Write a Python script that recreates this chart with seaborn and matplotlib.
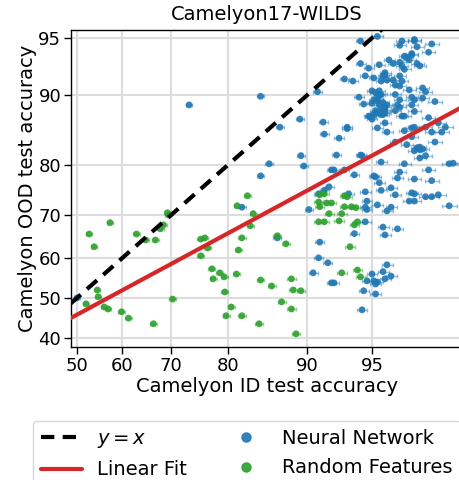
import math
import numpy as np
import pandas as pd
import seaborn as sns
import matplotlib
matplotlib.use("Agg")
import matplotlib.pyplot as plt
from matplotlib.lines import Line2D
from matplotlib.ticker import FixedLocator, NullLocator

# Neural network models: ID accuracy, OOD accuracy (%)
nn_id = [50.0, 73.4, 84.7, 91.0, 87.1, 89.3, 91.5, 91.6, 89.4, 85.8, 89.7, 84.7, 92.2, 92.0, 91.6,
         91.1, 82.1, 90.2, 86.8, 91.2, 91.1, 91.9, 90.6, 92.2, 92.8, 93.4, 92.6, 92.4, 93.2, 93.9,
         94.3, 94.4, 93.5, 94.6, 94.7, 94.7, 94.6, 93.9, 95.6, 95.7, 96.3, 95.3, 95.8, 96.0, 95.8,
         95.6, 95.0, 96.0, 95.7, 95.1, 95.2, 95.3, 94.7, 92.4, 94.5, 95.2, 94.4, 95.4, 96.0, 95.5,
         96.2, 95.1, 95.2, 95.5, 96.4, 96.3, 96.6, 97.0, 97.5, 97.6, 96.9, 97.0, 97.4, 97.6, 97.8,
         96.8, 97.0, 98.1, 98.1, 98.2, 97.2, 97.4, 96.2, 96.7, 96.9, 97.1, 97.2, 97.2, 97.0, 97.3,
         97.7, 95.3, 95.8, 96.6, 96.9, 97.0, 97.4, 97.6, 97.9, 98.0, 97.8, 97.5, 97.0, 96.5, 96.6,
         94.9, 95.1, 93.4, 95.7, 95.5, 95.7, 95.6, 95.7, 94.8, 95.0, 95.2, 95.5, 95.7, 95.8, 95.4,
         95.0, 95.1, 95.3, 95.5, 95.0, 95.2, 95.4, 94.5, 94.2, 96.2, 96.4, 96.3, 96.4, 96.2, 96.9,
         97.0, 97.3, 97.7, 96.9, 96.8, 97.3, 97.4, 96.4, 96.5, 96.4, 96.2, 96.1, 95.8, 95.5, 95.7,
         95.7, 95.6, 95.1, 94.6, 93.2, 93.8, 94.8, 94.3, 95.4, 95.9, 96.1, 96.4, 96.5, 96.6, 97.1,
         97.2, 96.7, 96.8, 96.9, 96.9, 96.6, 97.5, 97.1, 97.6, 97.0, 97.0, 96.5, 96.4, 95.3, 94.3,
         94.6, 95.3, 95.6, 95.4, 95.2, 95.6]
nn_ood = [50.0, 88.9, 89.9, 90.4, 86.0, 87.1, 86.7, 85.0, 81.6, 80.2, 79.8, 78.0, 79.1, 75.9, 75.2,
          74.5, 71.7, 71.2, 64.8, 63.8, 60.0, 58.8, 56.3, 53.8, 84.4, 85.8, 81.7, 79.1, 79.1, 78.2,
          81.7, 81.6, 74.5, 74.9, 73.0, 71.2, 68.5, 65.8, 67.3, 65.5, 66.9, 72.2, 70.9, 71.7, 58.3,
          56.6, 56.0, 55.5, 54.8, 54.3, 53.5, 54.0, 54.3, 53.8, 51.8, 51.0, 47.0, 76.7, 75.7, 75.2,
          74.3, 78.0, 77.8, 80.5, 78.7, 77.6, 80.2, 77.4, 79.1, 77.1, 74.7, 74.5, 73.9, 73.9, 74.3,
          73.0, 73.0, 72.0, 80.2, 80.3, 81.2, 81.6, 83.8, 83.4, 84.6, 82.9, 83.0, 82.6, 82.4, 82.7,
          83.8, 85.9, 85.3, 85.5, 85.9, 86.0, 86.0, 85.3, 85.3, 86.0, 86.6, 87.3, 88.1, 87.5, 87.5,
          87.4, 87.7, 86.0, 88.3, 87.7, 86.6, 87.7, 87.9, 87.5, 87.1, 88.2, 88.3, 88.6, 88.9, 88.9,
          89.1, 89.5, 89.7, 90.1, 90.5, 90.3, 90.5, 89.0, 89.8, 90.1, 89.5, 88.9, 88.6, 88.2, 88.9,
          89.5, 89.7, 89.3, 89.8, 90.6, 90.8, 90.4, 91.0, 91.5, 92.0, 91.1, 91.6, 91.6, 91.5, 92.3,
          92.1, 92.0, 91.8, 92.0, 91.7, 91.5, 92.7, 93.1, 93.0, 93.4, 93.1, 93.2, 92.9, 92.6, 93.1,
          92.9, 93.6, 93.4, 93.9, 93.8, 93.7, 94.0, 94.4, 94.6, 94.9, 94.8, 94.8, 94.5, 95.1, 94.8,
          71.7, 89.4, 88.0, 90.0, 87.9, 89.2]

# Random features models
rf_id = [52.7, 53.8, 57.3, 63.0, 64.9, 66.9, 67.9, 68.5, 69.3, 69.5, 52.0, 54.5, 54.7, 56.0, 56.9,
         59.8, 61.3, 66.5, 70.3, 75.5, 76.2, 75.5, 76.7, 77.4, 77.6, 78.7, 79.4, 79.5, 79.7, 80.5,
         82.9, 81.4, 83.7, 83.3, 82.1, 81.6, 81.3, 84.7, 86.1, 88.4, 88.6, 89.4, 87.3, 88.4, 82.1,
         84.5, 88.9, 86.8, 87.8, 91.2, 91.6, 91.1, 91.8, 92.2, 91.2, 92.0, 91.1, 91.6, 92.8, 93.2,
         93.4, 93.2, 93.7, 94.0, 93.0, 94.1, 93.9, 93.6, 93.0, 94.1, 94.3]
rf_ood = [65.7, 62.7, 68.3, 65.7, 64.3, 64.3, 66.9, 67.8, 70.5, 70.0, 48.5, 52.0, 50.3, 47.7, 47.2,
          46.5, 44.9, 43.5, 49.7, 64.5, 64.8, 60.5, 62.4, 57.3, 54.8, 56.3, 55.3, 51.5, 45.5, 47.7,
          74.1, 72.0, 70.3, 67.6, 64.8, 61.9, 56.0, 54.5, 53.0, 54.8, 52.0, 51.8, 49.0, 47.2, 45.5,
          43.5, 41.0, 65.3, 63.4, 74.3, 74.5, 72.8, 72.6, 72.6, 71.8, 70.3, 68.5, 68.5, 68.7, 74.1,
          73.9, 71.8, 71.8, 71.6, 70.3, 68.5, 67.8, 62.7, 56.3, 57.0, 55.3]

# linear fit in probit space: probit(ood) = slope * probit(id) + intercept
fit_slope = 0.612
fit_intercept = -0.106
n_test = 20000

x_ticks = [50, 60, 70, 80, 90, 95]
y_ticks = [40, 50, 60, 70, 80, 90, 95]


def norm_ppf(p):
    p = np.clip(np.asarray(p, dtype=float), 1e-9, 1 - 1e-9)
    a = [-3.969683028665376e+01, 2.209460984245205e+02, -2.759285104469687e+02,
         1.383577518672690e+02, -3.066479806614716e+01, 2.506628277459239e+00]
    b = [-5.447609879822406e+01, 1.615858368580409e+02, -1.556989798598866e+02,
         6.680131188771972e+01, -1.328068155288572e+01]
    c = [-7.784894002430293e-03, -3.223964580411365e-01, -2.400758277161838e+00,
         -2.549732539343734e+00, 4.374664141464968e+00, 2.938163982698783e+00]
    d = [7.784695709041462e-03, 3.224671290700398e-01, 2.445134137142996e+00,
         3.754408661907416e+00]
    plow = 0.02425
    q = p - 0.5
    r = q * q
    mid = (((((a[0]*r + a[1])*r + a[2])*r + a[3])*r + a[4])*r + a[5])*q / \
          (((((b[0]*r + b[1])*r + b[2])*r + b[3])*r + b[4])*r + 1)
    ql = np.sqrt(-2 * np.log(p))
    low = (((((c[0]*ql + c[1])*ql + c[2])*ql + c[3])*ql + c[4])*ql + c[5]) / \
          ((((d[0]*ql + d[1])*ql + d[2])*ql + d[3])*ql + 1)
    qu = np.sqrt(-2 * np.log(1 - p))
    up = -(((((c[0]*qu + c[1])*qu + c[2])*qu + c[3])*qu + c[4])*qu + c[5]) / \
         ((((d[0]*qu + d[1])*qu + d[2])*qu + d[3])*qu + 1)
    return np.where(p < plow, low, np.where(p > 1 - plow, up, mid))


_erf = np.vectorize(math.erf, otypes=[float])


def norm_cdf(u):
    return 0.5 * (1 + _erf(np.asarray(u, dtype=float) / math.sqrt(2)))


def fwd(v):
    return norm_ppf(np.asarray(v, dtype=float) / 100)


def inv(u):
    return norm_cdf(u) * 100


df = pd.concat([
    pd.DataFrame({"id": nn_id, "ood": nn_ood, "kind": "Neural Network"}),
    pd.DataFrame({"id": rf_id, "ood": rf_ood, "kind": "Random Features"}),
], ignore_index=True)
p = df["id"] / 100
df["xerr"] = 100 * 1.96 * np.sqrt(p * (1 - p) / n_test)

sns.set_style("whitegrid", {"axes.edgecolor": "black", "grid.color": "#dddddd",
                            "xtick.bottom": True, "ytick.left": True,
                            "text.color": "black", "axes.labelcolor": "black",
                            "xtick.color": "black", "ytick.color": "black"})
plt.rcParams["font.family"] = ["DejaVu Sans"]

fig = plt.figure(figsize=(4.6, 4.8), dpi=100)
ax = fig.add_axes([71/460, 1 - 347/480, 392/460, 317/480])
ax.set_xscale("function", functions=(fwd, inv))
ax.set_yscale("function", functions=(fwd, inv))

colors = {"Neural Network": "#1f77b4", "Random Features": "#2ca02c"}
for kind, g in df.groupby("kind"):
    ax.errorbar(g["id"], g["ood"], xerr=g["xerr"], fmt="none", ecolor=colors[kind],
                alpha=0.45, elinewidth=1, capsize=1.5, zorder=2)
sns.scatterplot(data=df, x="id", y="ood", hue="kind", palette=colors, s=24,
                edgecolor="none", alpha=0.9, legend=False, ax=ax, zorder=3)

xs = np.linspace(45, 99.5, 300)
ax.plot(xs, xs, color="black", ls=(0, (3.2, 2)), lw=3, zorder=4)
ax.plot(xs, inv(fit_slope * fwd(xs) + fit_intercept), color="#d62728", lw=3, zorder=4)

ax.set_xlim(48.66, 98.43)
ax.set_ylim(37.8, 95.5)
ax.xaxis.set_major_locator(FixedLocator(x_ticks))
ax.yaxis.set_major_locator(FixedLocator(y_ticks))
ax.xaxis.set_minor_locator(NullLocator())
ax.yaxis.set_minor_locator(NullLocator())
ax.set_xticklabels([str(t) for t in x_ticks])
ax.set_yticklabels([str(t) for t in y_ticks])
ax.tick_params(axis="both", labelsize=13, length=5, width=1, color="black", pad=2)
ax.grid(True, lw=1.5)
for s in ax.spines.values():
    s.set_color("black")
    s.set_linewidth(1)

ax.set_title("Camelyon17-WILDS", fontsize=14, pad=7)
ax.set_xlabel("Camelyon ID test accuracy", fontsize=14, labelpad=2)
ax.set_ylabel("Camelyon OOD test accuracy", fontsize=14, labelpad=1)

handles = [
    Line2D([], [], color="black", ls=(0, (3.2, 2)), lw=3),
    Line2D([], [], color="#d62728", lw=3),
    Line2D([], [], color="#1f77b4", marker="o", ls="none", markersize=6.5, alpha=0.9),
    Line2D([], [], color="#2ca02c", marker="o", ls="none", markersize=6.5, alpha=0.9),
]
labels = ["$y = x$", "Linear Fit", "Neural Network", "Random Features"]
fig.legend(handles, labels, loc="upper left", bbox_to_anchor=(33/460, 1 - 421/480),
           ncol=2, fontsize=14, frameon=True, edgecolor="#cccccc", handlelength=2.1,
           columnspacing=2.0, borderaxespad=0, labelspacing=0.55)

fig.savefig("out.png", dpi=100)
